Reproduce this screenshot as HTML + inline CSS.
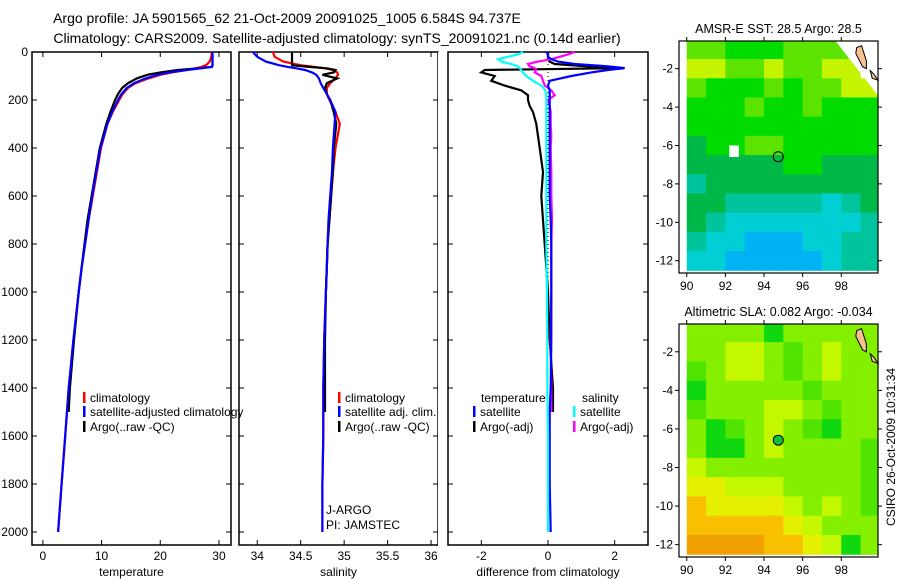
<!DOCTYPE html>
<html><head><meta charset="utf-8"><style>
body{margin:0;background:#fff;}
svg{display:block;font-family:"Liberation Sans",sans-serif;}
text{font-size:12px;fill:#000;}
text.ttl{font-size:14px;}
</style></head><body>
<svg id="c" width="900" height="580" viewBox="0 0 900 580">
<text class="ttl" x="287" y="23" text-anchor="middle">Argo profile: JA 5901565_62 21-Oct-2009 20091025_1005 6.584S 94.737E</text>
<text class="ttl" x="337" y="43" text-anchor="middle">Climatology: CARS2009. Satellite-adjusted climatology: synTS_20091021.nc (0.14d earlier)</text>
</svg>
<script>
// ---- profile data ----
const depT=[0,20,40,55,62,68,75,85,95,110,130,150,175,200,250,300,400,500,600,700,800,900,1000,1200,1400,1600,1800,2000];
const satT=[28.9,28.9,28.9,28.9,28.8,27,24.5,21.5,19.5,17.5,15.5,14.3,13.4,12.8,11.8,11,9.8,9.1,8.4,7.8,7.2,6.6,6.1,5.2,4.4,3.8,3.2,2.6];
const climT=[28.8,28.7,28.4,27.8,27,26,24.5,22,20,18,15.8,14.5,13.6,13,11.9,11,9.9,9.2,8.5,7.8,7.2,6.6,6.1,5.2,4.4,3.8,3.2,2.6];
const depArgo=[0,20,40,55,62,68,75,85,95,110,130,150,175,200,250,300,400,500,600,700,800,900,1000,1200,1400,1500];
const argoT=[28.9,28.9,28.9,28.9,28.8,26.5,23,20,17.8,16,14.5,13.5,12.8,12.3,11.5,10.8,9.7,9,8.3,7.6,7.1,6.6,6.1,5.3,4.6,4.4];
const satS=[33.95,34.0,34.1,34.25,34.35,34.45,34.55,34.63,34.68,34.71,34.73,34.76,34.8,34.84,34.9,34.89,34.87,34.86,34.84,34.82,34.81,34.8,34.79,34.77,34.76,34.76,34.75,34.75];
const climS=[34.18,34.2,34.3,34.5,34.65,34.78,34.87,34.92,34.93,34.9,34.84,34.8,34.8,34.83,34.9,34.95,34.9,34.87,34.85,34.83,34.81,34.8,34.79,34.77,34.76,34.76,34.75,34.75];
const argoS=[34.4,34.4,34.4,34.4,34.6,34.8,34.9,34.88,34.75,34.92,34.8,34.78,34.8,34.84,34.88,34.91,34.88,34.87,34.85,34.83,34.81,34.8,34.79,34.78,34.78,34.78];
const depD=[0,10,20,30,40,50,60,67,75,85,100,120,140,160,180,200,225,250,300,350,400,500,600,700,800,1000,1200,1400,1500,1600,1800,2000];
const dSatT=[-0.05,0,0,0.1,0.3,0.8,1.8,2.3,1.8,1.3,0.7,0.05,0,0.05,0.05,0.05,0.05,0.05,0.05,0.05,0.05,0.05,0.05,0.08,0.1,0.1,0.1,0.08,0.05,0.05,0.05,0.08];
const dArgoT=[0,0,0,0,0.05,0.2,1.2,2.1,-1.9,-2.0,-1.6,-1.7,-1.3,-0.8,-0.6,-0.6,-0.55,-0.45,-0.35,-0.3,-0.25,-0.15,-0.2,-0.15,-0.1,0,0.05,0.15,0.15];
const dSatS=[-0.75,-0.9,-1.2,-1.5,-1.4,-1.1,-0.9,-0.85,-0.8,-0.75,-0.65,-0.45,-0.2,-0.08,-0.05,-0.05,-0.05,-0.05,-0.05,-0.05,-0.05,-0.05,-0.05,-0.05,-0.05,-0.03,-0.02,-0.02,-0.01,0,0,0];
const dArgoS=[0.8,0.6,0.35,0.1,-0.3,-0.6,-0.55,-0.4,-0.35,-0.4,-0.2,-0.15,-0.1,0.1,0.2,0.0,0.05,0.08,0.08,0.1,0.08,0.1,0.1,0.12,0.1,0.1,0.08,0.1,0.1];
const depthTicks=[0,200,400,600,800,1000,1200,1400,1600,1800,2000];
const tempTicks=[0,10,20,30];
const salTicks=[34,34.5,35,35.5,36];
const salTickLabels=["34","34.5","35","35.5","36"];
const diffTicks=[-2,0,2];
// ---- map data (1-degree cells, rows lat -0.5..-12.5, cols lon 90..100) ----
const sstRows=["LLGGGLLLLW","YYLLYLLYYW","LGGGLGLLYY","GGGLGGLGGG","GGGGGGGGGG","DGGLLGGGGG","DDDDDGGDDD","TDDDDDDDDD","DDTTTTTCTD","DTCCCCCCCT","TCCBBBCCTT","CCBBBBBCTT"];
const slaRows=["LLLLgLLLLL","LLYYLGLYLL","GLYYLGLYLL","gLLLLLGLLL","GLLLYYLGLL","LgGLYLGgLL","LggLYLLLLG","YLLLLLLLLG","yyYYYLLLLG","oyyyyYLYLG","oooooyYLLL","OOOOooyYgL"];
const latTicks=[-2,-4,-6,-8,-10,-12];
const lonTicks=[90,92,94,96,98];
const argoLon=94.737, argoLat=-6.584;

const svg=document.getElementById('c');
const NS='http://www.w3.org/2000/svg';
function mk(tag,attrs,parent){const e=document.createElementNS(NS,tag);for(const k in attrs)e.setAttribute(k,attrs[k]);(parent||svg).appendChild(e);return e;}
function txt(x,y,s,anchor){const t=mk('text',{x:x,y:y,'text-anchor':anchor||'start'});t.textContent=s;return t;}

const Y0=52,Y1=545;
function yD(d){return Y0+d*(Y1-Y0)/2054;}
function panel(name,x0,x1,vmin,vmax){
  const g=mk('g',{});
  
  
  const xf=v=>x0+(v-vmin)*(x1-x0)/(vmax-vmin);
  return {g,xf,x0,x1};
}
function frame(p,xt,xl,label,ylabels){
  const r=mk('rect',{x:p.x0,y:Y0,width:p.x1-p.x0,height:Y1-Y0,fill:'none',stroke:'#000','stroke-width':1.5},p.g);
  
  
  depthTicks.forEach(d=>{const y=yD(d);
    mk('line',{x1:p.x0,x2:p.x0+5,y1:y,y2:y,stroke:'#000'},p.g);
    mk('line',{x1:p.x1-5,x2:p.x1,y1:y,y2:y,stroke:'#000'},p.g);
    if(ylabels){const t=txt(p.x0-4,y+4,String(d),'end');p.g.appendChild(t);
      
      }
  });
  xt.forEach((v,i)=>{const x=p.xf(v);
    mk('line',{x1:x,x2:x,y1:Y1,y2:Y1-5,stroke:'#000'},p.g);
    mk('line',{x1:x,x2:x,y1:Y0,y2:Y0+5,stroke:'#000'},p.g);
    const t=txt(x,Y1+15,xl[i],'middle');p.g.appendChild(t);
    
    
  });
  const t=txt((p.x0+p.x1)/2,Y1+31,label,'middle');p.g.appendChild(t);
  
  
}
function line(p,deps,vals,color,name){
  const pts=vals.map((v,i)=>p.xf(v).toFixed(1)+','+yD(deps[i]).toFixed(1)).join(' ');
  const l=mk('polyline',{points:pts,fill:'none',stroke:color,'stroke-width':2.2,'stroke-linejoin':'miter'},p.g);
  
  
}
function legend(p,x,y,color,label){
  mk('rect',{x:x,y:y-10,width:2.5,height:11,fill:color},p.g);
  const t=txt(x+7,y,label);p.g.appendChild(t);
  
  
}
// temperature panel
const pT=panel('temperature-panel',32,231,-1.85,32.05);
frame(pT,tempTicks,tempTicks.map(String),'temperature',true);
line(pT,depT,climT,'#f00','climatology-temp-line');
line(pT,depArgo,argoT,'#000','argo-temp-line');
line(pT,depT,satT,'#00f','satellite-temp-line');
legend(pT,83,402,'#f00','climatology');
legend(pT,83,416,'#00f','satellite-adjusted climatology');
legend(pT,83,431,'#000','Argo(..raw -QC)');
// salinity panel
const pS=panel('salinity-panel',239,438,33.79,36.08);
frame(pS,salTicks,salTickLabels,'salinity',false);
line(pS,depT,climS,'#f00','climatology-salinity-line');
line(pS,depArgo,argoS,'#000','argo-salinity-line');
line(pS,depT,satS,'#00f','satellite-salinity-line');
mk('rect',{x:438,y:52,width:7,height:494,fill:'#fff'});
legend(pS,338,402,'#f00','climatology');
legend(pS,338,416,'#00f','satellite adj. clim.');
legend(pS,338,431,'#000','Argo(..raw -QC)');
[['J-ARGO',514],['PI: JAMSTEC',529]].forEach(a=>{const t=txt(326,a[1],a[0]);
  
  });
// difference panel
const pD=panel('difference-panel',448,648,-3,3);
frame(pD,diffTicks,diffTicks.map(String),'difference from climatology',false);
mk('line',{x1:pD.xf(0),x2:pD.xf(0),y1:yD(0),y2:yD(2000),stroke:'#000','stroke-dasharray':'1,3'},pD.g);
line(pD,depD.slice(0,dArgoT.length),dArgoT,'#000','argo-temp-diff-line');
line(pD,depD.slice(0,dArgoS.length),dArgoS,'#f0f','argo-salinity-diff-line');
line(pD,depD,dSatT,'#00f','satellite-temp-diff-line');
line(pD,depD,dSatS,'#0ff','satellite-salinity-diff-line');
{const t=txt(481,402,'temperature');pD.g.appendChild(t);
 
 
 const t2=txt(582,402,'salinity');pD.g.appendChild(t2);
 
 }
legend(pD,473,416,'#00f','satellite');
legend(pD,473,431,'#000','Argo(-adj)');
legend(pD,573,416,'#0ff','satellite');
legend(pD,573,431,'#f0f','Argo(-adj)');

// ---- maps ----
const sstPal={L:'#5ce400',Y:'#c4f400',G:'#00dc00',D:'#00b848',T:'#00c49c',C:'#00d0d4',B:'#00b4f4',W:'#ffffff'};
const slaPal={L:'#84f000',Y:'#c4f800',y:'#e4f000',G:'#50e400',g:'#10d810',o:'#f8c000',O:'#f0a000'};
function map(name,top,bottom,rows,pal,title,filledDot){
  const g=mk('g',{});
  
  
  const L=679,R=878;
  const lx=v=>L+(v-89.6)*(R-L)/10.3;
  const ly=v=>top+(-0.56-v)*(bottom-top)/12.08;
  rows.forEach((row,r)=>{[...row].forEach((ch,c)=>{
    const x0=Math.max(lx(90+c),685),x1=Math.min(lx(91+c),R);
    const y0=Math.max(ly(-0.5-r),top),y1=Math.min(ly(-1.5-r),bottom);
    mk('rect',{x:x0,y:y0,width:x1-x0+0.5,height:y1-y0+0.5,fill:pal[ch]},g);
  });});
  if(rows===sstRows){
    mk('polygon',{points:`${lx(97.7)},${top} ${R},${top} ${R},${ly(-3.4)}`,fill:'#fff'},g);
    mk('rect',{x:lx(92.2),y:ly(-6),width:lx(92.7)-lx(92.2),height:ly(-6.6)-ly(-6),fill:'#fff'},g);
  }
  mk('polygon',{points:`${lx(98.8)},${ly(-0.9)} ${lx(99.05)},${ly(-0.8)} ${lx(99.3)},${ly(-1.6)} ${lx(99.3)},${ly(-2.0)} ${lx(99.1)},${ly(-1.9)} ${lx(98.75)},${ly(-1.2)}`,fill:'#f6c090',stroke:'#000','stroke-width':1},g);
  mk('polygon',{points:`${lx(99.5)},${ly(-2.1)} ${lx(99.7)},${ly(-2.3)} ${lx(99.9)},${ly(-2.6)} ${lx(99.6)},${ly(-2.5)}`,fill:'#f6c090',stroke:'#000','stroke-width':1},g);
  const dot=mk('circle',{cx:lx(argoLon),cy:ly(argoLat),r:5,fill:filledDot?'#10c040':'none',stroke:'#000','stroke-width':1},g);
  
  
  mk('rect',{x:L,y:top,width:R-L,height:bottom-top,fill:'none',stroke:'#000','stroke-width':1.2},g);
  latTicks.forEach(v=>{const y=ly(v);
    mk('line',{x1:L-4,x2:L,y1:y,y2:y,stroke:'#000'},g);
    mk('line',{x1:R,x2:R+4,y1:y,y2:y,stroke:'#000'},g);
    const t=txt(L-6,y+4,String(v),'end');g.appendChild(t);
    
    });
  lonTicks.forEach(v=>{const x=lx(v);
    mk('line',{x1:x,x2:x,y1:bottom,y2:bottom+4,stroke:'#000'},g);
    mk('line',{x1:x,x2:x,y1:top-4,y2:top,stroke:'#000'},g);
    const t=txt(x,bottom+17,String(v),'middle');g.appendChild(t);
    
    });
  const t=txt((L+R)/2,top-8,title,'middle');g.appendChild(t);
  t.setAttribute('style','font-size:12.5px');
  
  
}
map('sst-map',41,273,sstRows,sstPal,'AMSR-E SST: 28.5 Argo: 28.5',false);
map('sla-map',324,557,slaRows,slaPal,'Altimetric SLA: 0.082 Argo: -0.034',true);
{const t=txt(0,0,'CSIRO 26-Oct-2009 10:31:34','middle');
 t.setAttribute('transform','translate(895,447) rotate(-90)');
 
 }
</script>
</body></html>
